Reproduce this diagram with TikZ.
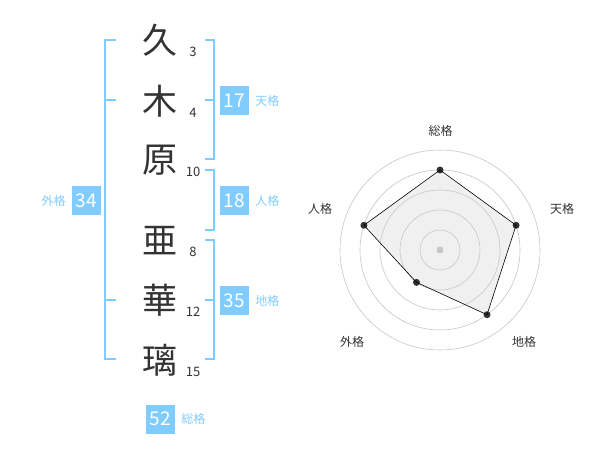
\documentclass[tikz,border=0pt]{standalone}
\usepackage{fontspec}
\setmainfont{Noto Sans CJK JP}
\usetikzlibrary{positioning}
\definecolor{kakublue}{HTML}{80CCFF}
\definecolor{inkgray}{HTML}{333333}
\tikzset{
    kanji/.style={text=inkgray, font=\fontsize{35}{35}\selectfont, inner sep=0pt},
    strokes/.style={text=inkgray, font=\fontsize{13}{13}\selectfont, inner sep=0pt},
    kakubox/.style={rectangle, fill=kakublue, text=white, minimum width=29pt, minimum height=29pt, inner sep=0pt, font=\fontsize{19}{19}\selectfont},
    kakulabel/.style={text=kakublue, font=\fontsize{12}{12}\selectfont, inner sep=0pt},
    bracket/.style={draw=kakublue, line width=2pt},
    ring/.style={draw=black!22, line width=0.6pt},
    axislabel/.style={text=inkgray, font=\fontsize{12}{12}\selectfont, inner sep=0pt},
    point/.style={circle, fill=inkgray, inner sep=0pt, minimum size=7pt}
}

\begin{document}
\begin{tikzpicture}[x=1pt, y=-1pt]
\useasboundingbox (0,0) rectangle (600,470);

% Name, one character per row
\node (k1) [kanji] at (160,40) {久};
\node (k2) [kanji] at (160,101) {木};
\node (k3) [kanji] at (160,160) {原};
\node (k4) [kanji] at (160,241) {亜};
\node (k5) [kanji] at (160,300) {華};
\node (k6) [kanji] at (160,360) {璃};

% Stroke counts
\node (s1) [strokes] at (193,52) {3};
\node (s2) [strokes] at (193,113) {4};
\node (s3) [strokes] at (193,172) {10};
\node (s4) [strokes] at (193,252) {8};
\node (s5) [strokes] at (193,312) {12};
\node (s6) [strokes] at (193,372) {15};

% Brackets
\draw[bracket] (116,40) -- (105,40) -- (105,359) -- (116,359);
\draw[bracket] (105,100) -- (116,100);
\draw[bracket] (105,300) -- (116,300);
\draw[bracket] (205,40) -- (214,40) -- (214,159) -- (205,159);
\draw[bracket] (205,100) -- (214,100);
\draw[bracket] (205,170) -- (214,170) -- (214,230) -- (205,230);
\draw[bracket] (205,240) -- (214,240) -- (214,359) -- (205,359);
\draw[bracket] (205,300) -- (214,300);

% Totals
\node (ten) [kakubox] at (234.5,100.5) {17};
\node[kakulabel, right=6pt of ten] {天格};
\node (jin) [kakubox] at (234.5,200.5) {18};
\node[kakulabel, right=6pt of jin] {人格};
\node (chi) [kakubox] at (234.5,300.5) {35};
\node[kakulabel, right=6pt of chi] {地格};
\node (gai) [kakubox] at (86.5,200.5) {34};
\node[kakulabel, left=6pt of gai] {外格};
\node (sou) [kakubox] at (160.5,419) {52};
\node[kakulabel, right=6pt of sou] {総格};

% Radar chart
\begin{scope}[shift={(440,250)}, yscale=-1]
\fill[black, opacity=0.06] (90:80) -- (18:80) -- (-54:80) -- (-126:40) -- (162:80) -- cycle;
\foreach \r in {20,40,60,80,100}
    \draw[ring] (0,0) circle[radius=\r];
\fill[black!22] (0,0) circle[radius=3.5];
\foreach \a/\r/\n in {90/80/sou, 18/80/ten, -54/80/chi, -126/40/gai, 162/80/jin}
    \node (p\n) [point] at (\a:\r) {};
\draw[black, line width=0.6pt] (psou.center) -- (pten.center) -- (pchi.center) -- (pgai.center) -- (pjin.center) -- cycle;
\node (lsou) [axislabel] at (0.5,119.5) {総格};
\node (lten) [axislabel] at (122,41.5) {天格};
\node (lchi) [axislabel] at (84,-92) {地格};
\node (lgai) [axislabel] at (-88,-92) {外格};
\node (ljin) [axislabel] at (-120,41) {人格};
\end{scope}

\end{tikzpicture}
\end{document}
